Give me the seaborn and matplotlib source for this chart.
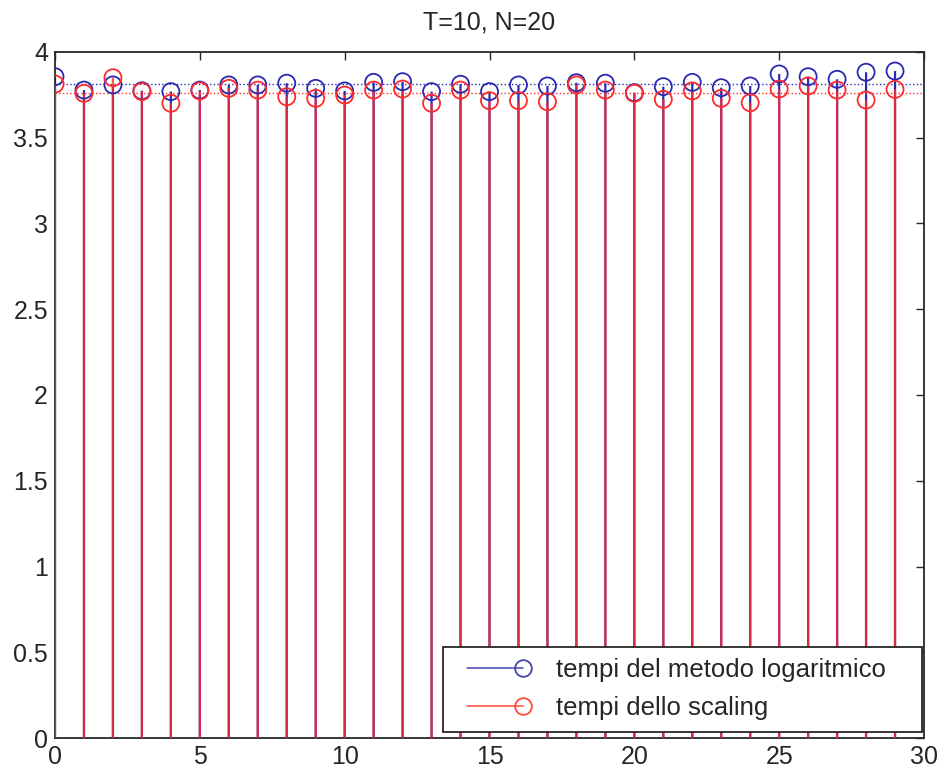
import numpy as np
import matplotlib
matplotlib.use("Agg")
import matplotlib.pyplot as plt
import seaborn as sns
from matplotlib.lines import Line2D
from matplotlib.legend_handler import HandlerBase

# ---- data ----
x_index = list(range(30))
tempi_log = [3.856, 3.778, 3.808, 3.774, 3.769, 3.778, 3.808, 3.808, 3.818, 3.788,
             3.773, 3.823, 3.827, 3.769, 3.812, 3.769, 3.808, 3.802, 3.821, 3.818,
             3.763, 3.798, 3.823, 3.792, 3.802, 3.872, 3.856, 3.841, 3.882, 3.889]
tempi_scaling = [3.813, 3.759, 3.850, 3.769, 3.701, 3.773, 3.788, 3.778, 3.739, 3.730,
                 3.749, 3.778, 3.784, 3.701, 3.778, 3.716, 3.716, 3.710, 3.808, 3.778,
                 3.759, 3.724, 3.773, 3.730, 3.704, 3.784, 3.802, 3.778, 3.720, 3.782]
labels = ["tempi del metodo logaritmico", "tempi dello scaling"]
title = "T=10, N=20"
xticks = [0, 5, 10, 15, 20, 25, 30]
yticks = [0, 0.5, 1, 1.5, 2, 2.5, 3, 3.5, 4]
ytick_labels = ["0", "0.5", "1", "1.5", "2", "2.5", "3", "3.5", "4"]

BLUE = "#2a2ab0"
RED = "#ff2a2a"
TXT = "#262626"

sns.set_theme(style="white")
plt.rcParams["font.family"] = ["Liberation Sans", "DejaVu Sans"]

fig = plt.figure(figsize=(9.44, 7.79), dpi=100)
ax = fig.add_axes([55/944, 1-738/779, (924-55)/944, (738-52)/779])

df_log = {"x": x_index, "y": tempi_log}
df_sc = {"x": x_index, "y": tempi_scaling}

# stems
ax.vlines(x_index, 0, tempi_log, color=BLUE, lw=1.6, zorder=2, snap=False)
ax.vlines(x_index, 0, tempi_scaling, color=RED, lw=1.6, alpha=0.8, zorder=3, snap=False)

# mean (dotted) lines
ax.axhline(np.mean(tempi_log), color=BLUE, ls=":", lw=1.0, zorder=2)
ax.axhline(np.mean(tempi_scaling), color=RED, ls=":", lw=1.0, zorder=2)

# markers
sns.scatterplot(x="x", y="y", data=df_log, marker="o", s=150, facecolor="none",
                edgecolor=BLUE, linewidth=1.3, ax=ax, zorder=4, legend=False)
sns.scatterplot(x="x", y="y", data=df_sc, marker="o", s=150, facecolor="none",
                edgecolor=RED, linewidth=1.3, ax=ax, zorder=5, legend=False)

ax.set_xlim(0, 30)
ax.set_ylim(0, 4)
ax.set_xticks(xticks)
ax.set_xticklabels([str(t) for t in xticks])
ax.set_yticks(yticks)
ax.set_yticklabels(ytick_labels)
ax.set_xlabel("")
ax.set_ylabel("")
ax.tick_params(direction="in", length=6, width=1, top=True, right=True,
               labelsize=18, colors=TXT, pad=5)
for sp in ax.spines.values():
    sp.set_color(TXT)
    sp.set_linewidth(1.3)
ax.set_title(title, fontsize=18, pad=16, color=TXT)


class StemHandler(HandlerBase):
    def create_artists(self, legend, orig_handle, xdescent, ydescent, width,
                       height, fontsize, trans):
        c = orig_handle.get_color()
        y = height / 2 - ydescent
        x0 = -xdescent + 9
        x1 = -xdescent + width
        ln = Line2D([x0, x1], [y, y], color=c, lw=1.1)
        mk = Line2D([x1], [y], marker="o", ms=12, mfc="none",
                    mec=c, mew=1.3, ls="none")
        ln.set_transform(trans)
        mk.set_transform(trans)
        return [ln, mk]


h1 = Line2D([], [], color="#4444aa")
h2 = Line2D([], [], color="#ff4a3a")
leg = ax.legend([h1, h2], labels, loc="lower left", mode="expand",
                bbox_to_anchor=((443-55)/869, (738-732)/686, 479/869, 84/686),
                borderaxespad=0,
                handler_map={Line2D: StemHandler()}, fontsize=18.5,
                handlelength=2.65, handletextpad=1.3, borderpad=0.45,
                labelspacing=0.55, fancybox=False, framealpha=1,
                edgecolor=TXT)
leg.get_frame().set_linewidth(1.3)
leg.set_zorder(10)
for t in leg.get_texts():
    t.set_color(TXT)

fig.savefig("out.png", dpi=100)
